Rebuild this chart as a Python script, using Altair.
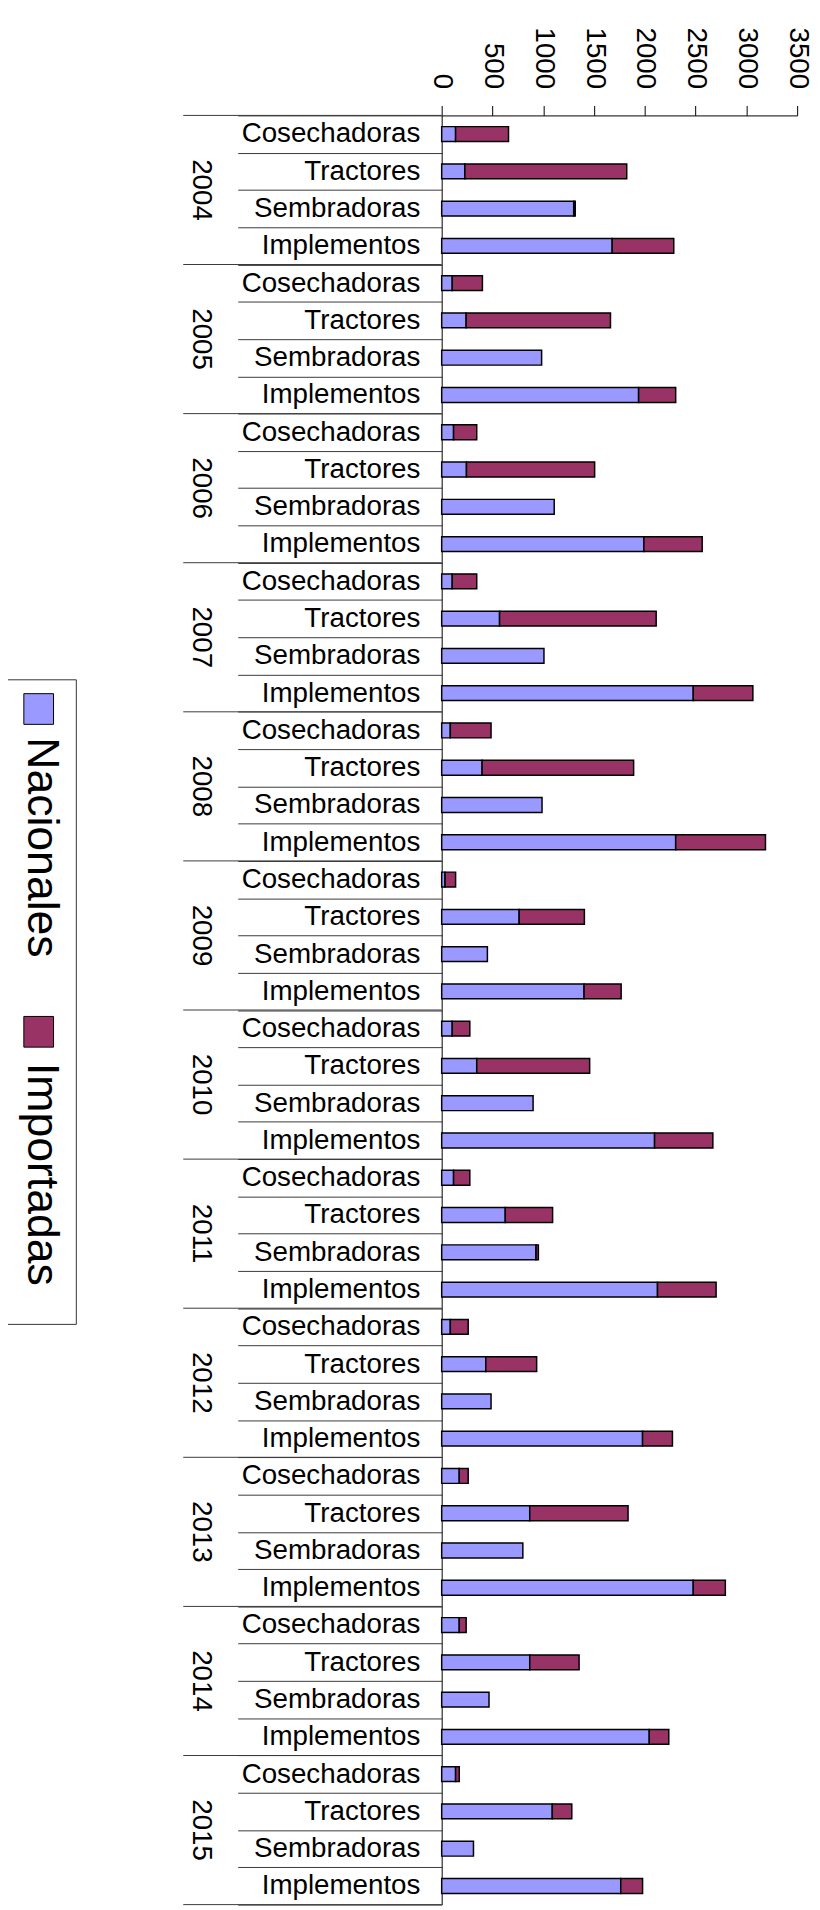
import altair as alt
import pandas as pd

FONT = "Liberation Sans"

years = ["2004", "2005", "2006", "2007", "2008", "2009",
         "2010", "2011", "2012", "2013", "2014", "2015"]
categories = ["Cosechadoras", "Tractores", "Sembradoras", "Implementos"]
series = ["Nacionales", "Importadas"]
colors = ["#9999FF", "#993366"]

# values per year, in the order of `categories`
nacionales = {
    "2004": [137, 228, 1300, 1679],
    "2005": [104, 241, 984, 1939],
    "2006": [117, 244, 1108, 1991],
    "2007": [104, 570, 1007, 2477],
    "2008": [85, 398, 988, 2304],
    "2009": [33, 763, 450, 1402],
    "2010": [104, 345, 900, 2096],
    "2011": [117, 626, 929, 2125],
    "2012": [85, 434, 486, 1978],
    "2013": [173, 867, 799, 2477],
    "2014": [173, 867, 466, 2044],
    "2015": [137, 1089, 313, 1763],
}
importadas = {
    "2004": [521, 1594, 15, 606],
    "2005": [297, 1421, 0, 365],
    "2006": [228, 1262, 0, 574],
    "2007": [241, 1542, 0, 587],
    "2008": [401, 1492, 0, 884],
    "2009": [104, 642, 0, 365],
    "2010": [173, 1112, 0, 574],
    "2011": [160, 466, 23, 577],
    "2012": [176, 501, 0, 294],
    "2013": [88, 968, 0, 316],
    "2014": [68, 486, 0, 192],
    "2015": [36, 192, 0, 215],
}
x_ticks = [0, 500, 1000, 1500, 2000, 2500, 3000, 3500]

keys = [f"{y}|{c}" for y in years for c in categories]

rows = []
for y in years:
    for i, c in enumerate(categories):
        rows.append({"key": f"{y}|{c}", "tipo": series[0], "valor": nacionales[y][i], "orden": 0})
        rows.append({"key": f"{y}|{c}", "tipo": series[1], "valor": importadas[y][i], "orden": 1})
df = pd.DataFrame(rows)

color_scale = alt.Scale(domain=series, range=colors)

y_axis = alt.Axis(
    title=None,
    orient="left",
    labelExpr="split(datum.value, '|')[1]",
    labelFont=FONT,
    labelFontSize=28,
    labelColor="black",
    labelAlign="right",
    labelBaseline="middle",
    labelLimit=0,
    labelPadding=-184,
    tickBand="extent",
    tickSize=206,
    tickColor="#3a3a3a",
    tickWidth=1,
    domainColor="black",
    domainWidth=1,
    grid=False,
)
y_scale = alt.Scale(paddingInner=0, paddingOuter=0)


def ydef(field="key:N", **kw):
    return alt.Y(field, sort=keys, scale=y_scale, axis=y_axis, **kw)


bars = alt.Chart(df).transform_filter("datum.valor > 0").mark_bar(
    height=15, stroke="black", strokeWidth=1.5
).encode(
    x=alt.X(
        "valor:Q",
        stack="zero",
        scale=alt.Scale(domain=[0, 3500], nice=False),
        axis=alt.Axis(
            title=None,
            orient="top",
            values=x_ticks,
            format="d",
            labelAngle=90,
            labelAlign="right",
            labelBaseline="middle",
            labelFont=FONT,
            labelFontSize=28,
            labelColor="black",
            labelPadding=17,
            labelFlush=False,
            labelOverlap=False,
            tickSize=10,
            tickColor="black",
            domainColor="black",
            grid=False,
        ),
    ),
    y=ydef(),
    color=alt.Color("tipo:N", scale=color_scale, legend=None),
    order=alt.Order("orden:Q"),
)

df_years = pd.DataFrame({"anio": years, "key": [f"{y}|Tractores" for y in years]})
year_labels = alt.Chart(df_years).mark_text(
    angle=90, font=FONT, fontSize=28, color="black", align="center", baseline="middle"
).encode(
    y=ydef(bandPosition=1),
    x=alt.value(-243),
    text="anio:N",
)

df_bounds = pd.DataFrame({"key": [f"{y}|Cosechadoras" for y in years]})
group_rules = alt.Chart(df_bounds).mark_rule(color="#3a3a3a", strokeWidth=1).encode(
    y=ydef(bandPosition=0),
    x=alt.value(-261),
    x2=alt.value(0),
)
df_last = pd.DataFrame({"key": [keys[-1]]})
last_rule = alt.Chart(df_last).mark_rule(color="#3a3a3a", strokeWidth=1).encode(
    y=ydef(bandPosition=1),
    x=alt.value(-261),
    x2=alt.value(0),
)

# custom rotated legend
legend_box = alt.Chart(pd.DataFrame({"a": [0]})).mark_rect(
    filled=False, stroke="#333333", strokeWidth=1
).encode(
    x=alt.value(-440), x2=alt.value(-369), y=alt.value(570), y2=alt.value(1221)
)

legend_layers = []
for name, sq_y, txt_y in [(series[0], 584, 628), (series[1], 910, 957)]:
    d = pd.DataFrame({"tipo": [name]})
    legend_layers.append(
        alt.Chart(d).mark_rect(stroke="black", strokeWidth=1).encode(
            x=alt.value(-422), x2=alt.value(-392),
            y=alt.value(sq_y), y2=alt.value(sq_y + 31),
            color=alt.Color("tipo:N", scale=color_scale, legend=None),
        )
    )
    legend_layers.append(
        alt.Chart(d).mark_text(
            angle=90, font=FONT, fontSize=45, color="black", align="left", baseline="middle"
        ).encode(
            x=alt.value(-404), y=alt.value(txt_y), text="tipo:N"
        )
    )

chart = alt.layer(
    group_rules, last_rule, bars, year_labels, legend_box, *legend_layers
).properties(
    width=359,
    height=1807,
    autosize=alt.AutoSizeParams(type="none"),
    padding={"left": 438, "top": 99, "right": 15, "bottom": 0},
    background="white",
).configure_view(stroke=None)

chart.save("out.html", embed_options={"renderer": "svg", "actions": False})
